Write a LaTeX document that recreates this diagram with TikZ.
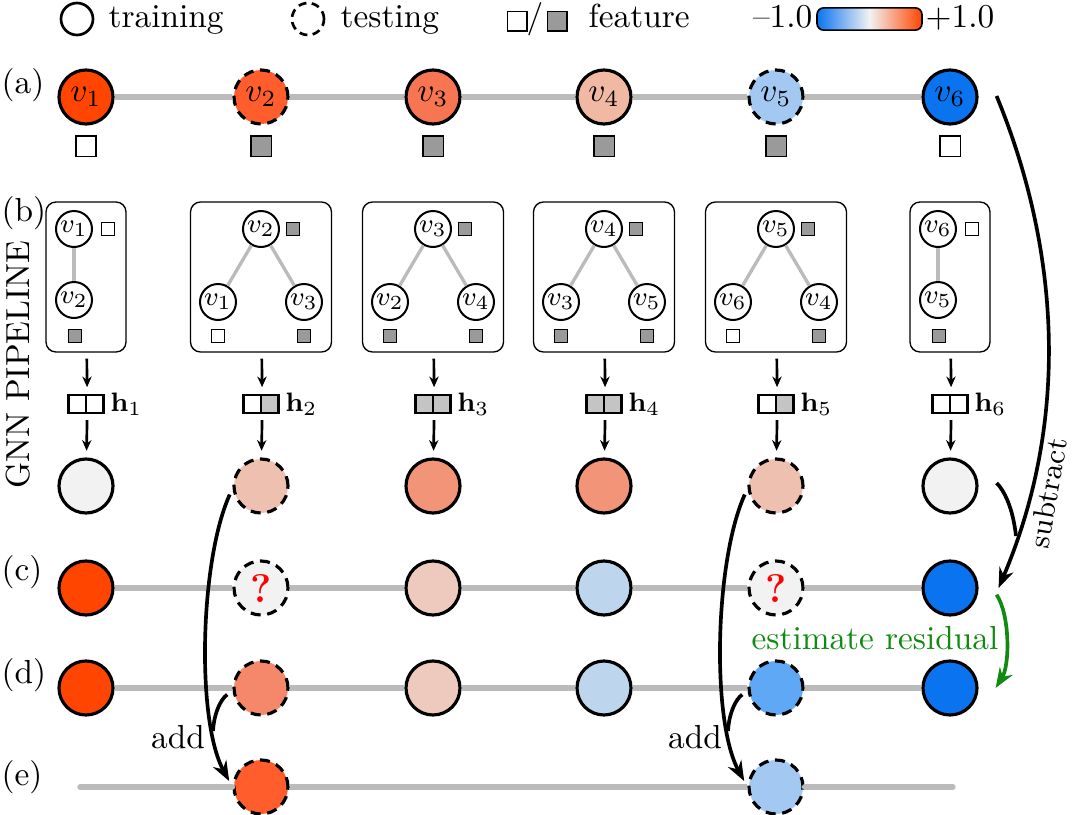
\documentclass[tikz,border=0pt]{standalone}
\usetikzlibrary{arrows.meta}

\definecolor{redA}{HTML}{FF4500}
\definecolor{redB}{HTML}{FF5E2C}
\definecolor{redC}{HTML}{F87552}
\definecolor{redD}{HTML}{F1B9A3}
\definecolor{bluE}{HTML}{A3C9F2}
\definecolor{blueA}{HTML}{0A74F0}
\definecolor{grayW}{HTML}{F2F2F2}
\definecolor{pinkO}{HTML}{EEC0B0}
\definecolor{salmO}{HTML}{F29478}
\definecolor{pinkC}{HTML}{EECABE}
\definecolor{bluC}{HTML}{BDD6EE}
\definecolor{salmD}{HTML}{F5886A}
\definecolor{bluD}{HTML}{5EA8F5}
\definecolor{featgray}{HTML}{9A9A9A}
\definecolor{hgray}{HTML}{C4C4C4}
\definecolor{edgegray}{HTML}{BBBBBB}
\definecolor{resgreen}{HTML}{108A10}

\begin{document}
\begin{tikzpicture}[x=0.3pt,y=-0.3pt,
  big/.style={circle,draw,line width=0.95pt,minimum size=16.2pt,inner sep=0pt},
  test/.style={dash pattern=on 3pt off 2pt},
  sub/.style={circle,draw,line width=0.6pt,minimum size=10.8pt,inner sep=0pt,fill=white,font=\footnotesize},
  feat/.style={draw,line width=0.5pt,minimum size=6.2pt,inner sep=0pt},
  sfeat/.style={draw,line width=0.4pt,minimum size=3.9pt,inner sep=0pt},
  hcell/.style={draw,line width=0.7pt,minimum width=5.25pt,minimum height=5.4pt,inner sep=0pt},
  hlab/.style={right,inner sep=1.5pt,font=\footnotesize},
  row/.style={anchor=west,inner sep=0pt},
  box/.style={draw,rounded corners=3pt,line width=0.4pt,minimum height=45pt,inner sep=0pt},
  edge/.style={line width=1.6pt,edgegray,line cap=round},
  sedge/.style={line width=1pt,edgegray},
  flow/.style={-{Stealth[length=3.2pt,width=2.8pt]},line width=0.8pt,shorten <=1.8pt,shorten >=2pt},
  curve/.style={-{Stealth[length=6pt,width=4.5pt]},line width=1.1pt}]
\useasboundingbox (0,0) rectangle (1077,815);

% legend
\draw (77,19)node[big,minimum size=9.6pt,line width=0.8pt](ltrain){};
\draw (108,27)node[anchor=base west,inner sep=0pt](ltraint){training};
\draw (308,19)node[big,test,minimum size=9.6pt,line width=0.8pt,dash pattern=on 2.4pt off 1.6pt](ltest){};
\draw (340,27)node[anchor=base west,inner sep=0pt](ltestt){testing};
\draw (517,21)node[feat,minimum size=5.8pt](lfw){};
\draw (535,27)node[anchor=base,inner sep=0pt](lsl){/};
\draw (557,21)node[feat,minimum size=5.8pt,fill=featgray](lfg){};
\draw (588,27)node[anchor=base west,inner sep=0pt](lfeat){feature};
\draw (869.5,19)node[draw,line width=0.5pt,rounded corners=2pt,minimum width=31.5pt,minimum height=6.6pt,left color=blueA,right color=redA,middle color=grayW](cbar){};
\draw (813,27)node[anchor=base east,inner sep=0pt](cmin){--1.0};
\draw (925,27)node[anchor=base west,inner sep=0pt](cmax){+1.0};

% (a) graph
\draw (1,85)node[row](la){(a)};
\draw (86,97)node[big,fill=redA](a1){$v_1$};
\draw (261,97)node[big,test,fill=redB](a2){$v_2$};
\draw (433,97)node[big,fill=redC](a3){$v_3$};
\draw (604,97)node[big,fill=redD](a4){$v_4$};
\draw (776,97)node[big,test,fill=bluE](a5){$v_5$};
\draw (950,97)node[big,fill=blueA](a6){$v_6$};
\draw[edge,line cap=butt] (a1)--(a2)--(a3)--(a4)--(a5)--(a6);
\draw (86,146)node[feat](f1){};
\draw (261,146)node[feat,fill=featgray](f2){};
\draw (433,146)node[feat,fill=featgray](f3){};
\draw (604,146)node[feat,fill=featgray](f4){};
\draw (776,146)node[feat,fill=featgray](f5){};
\draw (950,146)node[feat](f6){};

% (b) gnn pipeline
\draw (1,213)node[row](lb){(b)};
\draw (18,365)node[rotate=90](gnn){GNN PIPELINE};

\draw (86,277)node[box,minimum width=24pt](g1){};
\draw (74,229)node[sub](g1t){$v_1$};
\draw (108,229)node[sfeat](g1tf){};
\draw (74,300)node[sub](g1b){$v_2$};
\draw (75,336)node[sfeat,fill=featgray](g1bf){};
\draw[sedge] (g1t)--(g1b);

\draw (261,277)node[box,minimum width=42.3pt](g2){};
\draw (261,229)node[sub](g2t){$v_2$};
\draw (293,229)node[sfeat,fill=featgray](g2tf){};
\draw (218,302)node[sub](g2l){$v_1$};
\draw (304,302)node[sub](g2r){$v_3$};
\draw (218,336)node[sfeat](g2lf){};
\draw (304,336)node[sfeat,fill=featgray](g2rf){};
\draw[sedge] (g2t)--(g2l) (g2t)--(g2r);

\draw (433,277)node[box,minimum width=42.3pt](g3){};
\draw (433,229)node[sub](g3t){$v_3$};
\draw (465,229)node[sfeat,fill=featgray](g3tf){};
\draw (390,302)node[sub](g3l){$v_2$};
\draw (476,302)node[sub](g3r){$v_4$};
\draw (390,336)node[sfeat,fill=featgray](g3lf){};
\draw (476,336)node[sfeat,fill=featgray](g3rf){};
\draw[sedge] (g3t)--(g3l) (g3t)--(g3r);

\draw (604,277)node[box,minimum width=42.3pt](g4){};
\draw (604,229)node[sub](g4t){$v_4$};
\draw (636,229)node[sfeat,fill=featgray](g4tf){};
\draw (561,302)node[sub](g4l){$v_3$};
\draw (647,302)node[sub](g4r){$v_5$};
\draw (561,336)node[sfeat,fill=featgray](g4lf){};
\draw (647,336)node[sfeat,fill=featgray](g4rf){};
\draw[sedge] (g4t)--(g4l) (g4t)--(g4r);

\draw (776,277)node[box,minimum width=42.3pt](g5){};
\draw (776,229)node[sub](g5t){$v_5$};
\draw (808,229)node[sfeat,fill=featgray](g5tf){};
\draw (733,302)node[sub](g5l){$v_6$};
\draw (819,302)node[sub](g5r){$v_4$};
\draw (733,336)node[sfeat](g5lf){};
\draw (819,336)node[sfeat,fill=featgray](g5rf){};
\draw[sedge] (g5t)--(g5l) (g5t)--(g5r);

\draw (950,277)node[box,minimum width=24pt](g6){};
\draw (938,229)node[sub](g6t){$v_6$};
\draw (972,229)node[sfeat](g6tf){};
\draw (938,300)node[sub](g6b){$v_5$};
\draw (939,336)node[sfeat,fill=featgray](g6bf){};
\draw[sedge] (g6t)--(g6b);

% embeddings
\draw (77.25,404)node[hcell](h1a){};
\draw (94.75,404)node[hcell](h1b){};
\draw (h1b.east)node[hlab](h1){$\mathbf{h}_1$};
\draw (252.25,404)node[hcell](h2a){};
\draw (269.75,404)node[hcell,fill=hgray](h2b){};
\draw (h2b.east)node[hlab](h2){$\mathbf{h}_2$};
\draw (424.25,404)node[hcell,fill=hgray](h3a){};
\draw (441.75,404)node[hcell,fill=hgray](h3b){};
\draw (h3b.east)node[hlab](h3){$\mathbf{h}_3$};
\draw (595.25,404)node[hcell,fill=hgray](h4a){};
\draw (612.75,404)node[hcell,fill=hgray](h4b){};
\draw (h4b.east)node[hlab](h4){$\mathbf{h}_4$};
\draw (767.25,404)node[hcell](h5a){};
\draw (784.75,404)node[hcell,fill=hgray](h5b){};
\draw (h5b.east)node[hlab](h5){$\mathbf{h}_5$};
\draw (941.25,404)node[hcell](h6a){};
\draw (958.75,404)node[hcell](h6b){};
\draw (h6b.east)node[hlab](h6){$\mathbf{h}_6$};

% predictions
\draw (86,486)node[big,fill=grayW](o1){};
\draw (261,486)node[big,test,fill=pinkO](o2){};
\draw (433,486)node[big,fill=salmO](o3){};
\draw (604,486)node[big,fill=salmO](o4){};
\draw (776,486)node[big,test,fill=pinkO](o5){};
\draw (950,486)node[big,fill=grayW](o6){};

\draw[flow] (g1)--(h1a.north east);
\draw[flow] (g2)--(h2a.north east);
\draw[flow] (g3)--(h3a.north east);
\draw[flow] (g4)--(h4a.north east);
\draw[flow] (g5)--(h5a.north east);
\draw[flow] (g6)--(h6a.north east);
\draw[flow] (h1a.south east)--(o1);
\draw[flow] (h2a.south east)--(o2);
\draw[flow] (h3a.south east)--(o3);
\draw[flow] (h4a.south east)--(o4);
\draw[flow] (h5a.south east)--(o5);
\draw[flow] (h6a.south east)--(o6);

% (c) residuals
\draw (1,572)node[row](lc){(c)};
\draw (86,588)node[big,fill=redA](c1){};
\draw (261,588)node[big,test,fill=grayW,text=red,font=\large\bfseries](c2){?};
\draw (433,588)node[big,fill=pinkC](c3){};
\draw (604,588)node[big,fill=bluC](c4){};
\draw (776,588)node[big,test,fill=grayW,text=red,font=\large\bfseries](c5){?};
\draw (950,588)node[big,fill=blueA](c6){};
\draw[edge,line cap=butt] (c1)--(c2)--(c3)--(c4)--(c5)--(c6);

% (d) propagated residuals
\draw (1,675)node[row](ld){(d)};
\draw (86,688)node[big,fill=redA](d1){};
\draw (261,688)node[big,test,fill=salmD](d2){};
\draw (433,688)node[big,fill=pinkC](d3){};
\draw (604,688)node[big,fill=bluC](d4){};
\draw (776,688)node[big,test,fill=bluD](d5){};
\draw (950,688)node[big,fill=blueA](d6){};
\draw[edge,line cap=butt] (d1)--(d2)--(d3)--(d4)--(d5)--(d6);

% (e) final
\draw (1,777)node[row](le){(e)};
\coordinate (eL) at (80,787);
\coordinate (eR) at (953,787);
\draw (261,787)node[big,test,fill=redB](e2){};
\draw (776,787)node[big,test,fill=bluE](e5){};
\draw[edge] (eL)--(e2);
\draw[edge,line cap=butt] (e2)--(e5);
\draw[edge] (e5)--(eR);

% subtract
\coordinate (sj) at (1016,536);
\draw[curve] ([xshift=5.4pt,yshift=0.3pt]a6.east) .. controls (1060,250) and (1070,420) .. ([xshift=6pt]c6.east);
\draw[line width=1.1pt] ([xshift=5.4pt,yshift=0.9pt]o6.east) .. controls (1004,490) and (1013,508) .. (sj);
\draw (1048,493)node[rotate=80,font=\small](sub){subtract};

% estimate residual
\draw[curve,resgreen] ([xshift=5.4pt,yshift=-2pt]c6.east) .. controls (1010,615) and (1010,665) .. ([xshift=5.1pt]d6.east);
\draw (875,638)node[text=resgreen](est){estimate residual};

% add
\coordinate (aj2) at (213,731);
\draw[curve,shorten <=2pt,shorten >=2pt] (o2.185) .. controls (200,560) and (196,720) .. (e2.180);
\draw[line width=1.1pt,shorten <=2pt] (d2.185) .. controls (220,700) and (214,714) .. (aj2);
\draw (178,737)node(add2){add};
\coordinate (aj5) at (728,731);
\draw[curve,shorten <=2pt,shorten >=2pt] (o5.185) .. controls (715,560) and (711,720) .. (e5.180);
\draw[line width=1.1pt,shorten <=2pt] (d5.185) .. controls (735,700) and (729,714) .. (aj5);
\draw (695,737)node(add5){add};
\end{tikzpicture}
\end{document}
